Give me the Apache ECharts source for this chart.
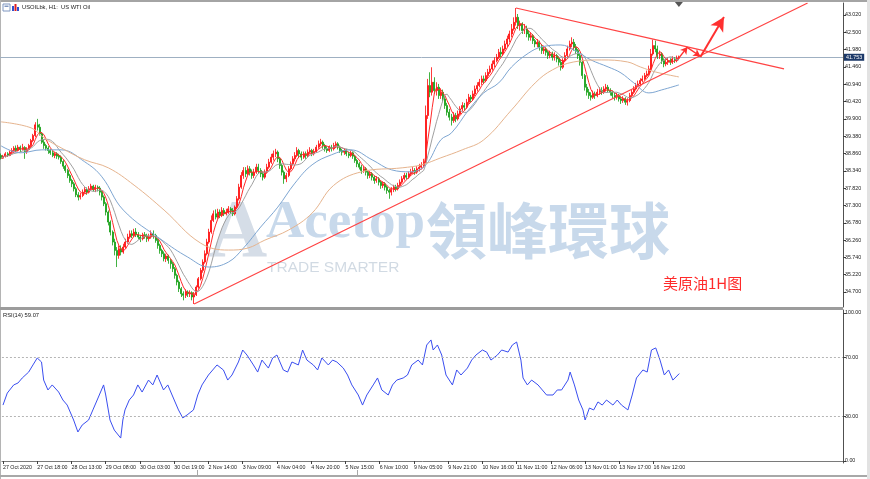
<!DOCTYPE html>
<html><head><meta charset="utf-8">
<script src="https://cdn.jsdelivr.net/npm/echarts@6/dist/echarts.min.js"></script>
<style>html,body{margin:0;padding:0;background:#fff}#c{width:870px;height:479px}</style>
</head><body><div id="c"></div>
<script>
// ---------- DATA ----------
const tickLabels = ['27 Oct 2020','27 Oct 18:00','28 Oct 13:00','29 Oct 08:00','30 Oct 03:00','30 Oct 19:00','2 Nov 14:00','3 Nov 09:00','4 Nov 04:00','4 Nov 20:00','5 Nov 15:00','6 Nov 10:00','9 Nov 05:00','9 Nov 21:00','10 Nov 16:00','11 Nov 11:00','12 Nov 06:00','13 Nov 01:00','13 Nov 17:00','16 Nov 12:00'];
const priceTicks = [34.70,35.22,35.74,36.26,36.78,37.30,37.82,38.34,38.86,39.38,39.90,40.42,40.94,41.46,41.98,42.50,43.02];
const rsiTicks = [0,30,70,100];
const rsiLevels = [30,70];
// [open, close, low, high] per H1 bar
const ohlc = [
[38.80,38.72,38.68,38.86],[38.72,38.78,38.70,38.82],[38.78,38.85,38.74,38.90],[38.85,38.80,38.76,38.90],[38.80,38.90,38.78,38.95],
[38.90,38.95,38.85,39.02],[38.95,39.02,38.90,39.08],[39.02,38.95,38.90,39.10],[38.95,39.05,38.92,39.12],[39.05,38.98,38.90,39.10],
[38.98,39.04,38.95,39.15],[39.04,38.92,38.70,39.08],[38.92,38.98,38.85,39.05],[38.98,39.10,38.95,39.15],[39.10,39.25,39.05,39.30],
[39.25,39.40,39.20,39.45],[39.40,39.72,39.35,39.80],[39.72,39.65,39.55,39.90],[39.65,39.45,39.40,39.75],[39.45,39.20,39.15,39.50],
[39.20,39.10,39.00,39.28],[39.10,39.02,38.95,39.15],[39.02,38.95,38.85,39.08],[38.95,38.88,38.82,39.00],[38.88,38.80,38.75,38.95],
[38.80,38.85,38.72,38.90],[38.85,38.78,38.70,38.90],[38.78,38.75,38.68,38.85],[38.75,38.62,38.55,38.80],[38.62,38.48,38.40,38.66],
[38.48,38.35,38.28,38.52],[38.35,38.20,38.12,38.40],[38.20,38.05,37.98,38.25],[38.05,37.95,37.85,38.10],[37.95,37.80,37.72,38.00],
[37.80,37.62,37.55,37.85],[37.62,37.55,37.45,37.70],[37.55,37.60,37.48,37.68],[37.60,37.70,37.55,37.78],[37.70,37.78,37.65,37.85],
[37.78,37.70,37.62,37.84],[37.70,37.80,37.66,37.88],[37.80,37.88,37.75,37.95],[37.88,37.78,37.72,37.92],[37.78,37.85,37.70,37.92],
[37.85,37.82,37.72,37.90],[37.82,37.70,37.60,37.88],[37.70,37.55,37.45,37.75],[37.55,37.35,37.28,37.60],[37.35,37.10,37.00,37.40],
[37.10,36.80,36.70,37.15],[36.80,36.50,36.40,36.85],[36.50,36.20,36.10,36.55],[36.20,35.95,35.80,36.30],[35.95,35.80,35.45,36.05],
[35.80,36.00,35.70,36.10],[36.00,35.90,35.80,36.10],[35.90,36.05,35.85,36.15],[36.05,36.20,36.00,36.30],[36.20,36.35,36.15,36.45],
[36.35,36.45,36.30,36.55],[36.45,36.40,36.32,36.55],[36.40,36.50,36.35,36.60],[36.50,36.42,36.35,36.62],[36.42,36.35,36.28,36.50],
[36.35,36.30,36.20,36.42],[36.30,36.42,36.25,36.48],[36.42,36.38,36.30,36.50],[36.38,36.30,36.20,36.45],[36.30,36.35,36.22,36.45],
[36.35,36.45,36.30,36.55],[36.45,36.40,36.30,36.55],[36.40,36.25,36.18,36.45],[36.25,36.10,36.00,36.30],[36.10,35.95,35.85,36.15],
[35.95,35.85,35.75,36.00],[35.85,35.70,35.62,35.92],[35.70,35.78,35.60,35.85],[35.78,35.65,35.55,35.82],[35.65,35.55,35.40,35.70],
[35.55,35.40,35.30,35.60],[35.40,35.20,35.10,35.45],[35.20,35.00,34.90,35.25],[35.00,34.80,34.70,35.05],[34.80,34.65,34.55,34.85],
[34.65,34.60,34.45,34.72],[34.60,34.70,34.52,34.78],[34.70,34.65,34.55,34.75],[34.65,34.68,34.55,34.75],[34.68,34.55,34.45,34.72],
[34.55,34.62,34.34,34.70],[34.62,34.85,34.58,34.90],[34.85,35.10,34.80,35.15],[35.10,35.35,35.05,35.42],[35.35,35.60,35.28,35.68],
[35.60,35.85,35.55,35.95],[35.85,36.20,35.80,36.30],[36.20,36.50,36.15,36.60],[36.50,36.85,36.45,37.00],[36.85,37.05,36.80,37.15],
[37.05,36.95,36.88,37.18],[36.95,37.10,36.90,37.20],[37.10,37.00,36.92,37.18],[37.00,37.15,36.95,37.25],[37.15,37.05,36.98,37.22],
[37.05,37.10,37.00,37.20],[37.10,37.20,37.05,37.28],[37.20,37.15,37.05,37.25],[37.15,37.05,36.98,37.22],[37.05,37.25,37.00,37.30],
[37.25,37.50,37.20,37.58],[37.50,37.85,37.45,37.95],[37.85,38.20,37.80,38.30],[38.20,38.35,38.10,38.45],[38.35,38.25,38.15,38.45],
[38.25,38.40,38.20,38.50],[38.40,38.30,38.20,38.48],[38.30,38.20,38.10,38.38],[38.20,38.30,38.12,38.40],[38.30,38.45,38.25,38.55],
[38.45,38.35,38.25,38.55],[38.35,38.25,38.15,38.42],[38.25,38.15,38.05,38.32],[38.15,38.30,38.10,38.38],[38.30,38.45,38.25,38.55],
[38.45,38.60,38.40,38.70],[38.60,38.75,38.55,38.85],[38.75,38.85,38.65,38.95],[38.85,38.90,38.75,39.00],[38.90,38.70,38.60,38.95],
[38.70,38.50,38.40,38.75],[38.50,38.30,38.20,38.55],[38.30,38.10,37.95,38.35],[38.10,38.20,38.00,38.28],[38.20,38.40,38.15,38.48],
[38.40,38.55,38.35,38.62],[38.55,38.70,38.50,38.78],[38.70,38.80,38.62,38.90],[38.80,38.95,38.75,39.05],[38.95,38.85,38.75,39.00],
[38.85,38.75,38.65,38.92],[38.75,38.85,38.70,38.92],[38.85,38.80,38.70,38.92],[38.80,38.90,38.75,38.98],[38.90,38.95,38.85,39.05],
[38.95,38.85,38.78,39.00],[38.85,38.92,38.80,39.00],[38.92,39.05,38.88,39.12],[39.05,39.15,39.00,39.25],[39.15,39.20,39.08,39.30],
[39.20,39.10,39.00,39.25],[39.10,39.00,38.92,39.15],[39.00,38.95,38.88,39.08],[38.95,39.05,38.90,39.10],[39.05,39.00,38.92,39.12],
[39.00,39.10,38.95,39.18],[39.10,39.15,39.02,39.22],[39.15,39.05,38.98,39.20],[39.05,38.95,38.88,39.10],[38.95,38.90,38.80,39.00],
[38.90,38.95,38.82,39.02],[38.95,38.85,38.78,39.00],[38.85,38.80,38.72,38.92],[38.80,38.88,38.75,38.95],[38.88,38.78,38.70,38.92],
[38.78,38.65,38.58,38.82],[38.65,38.55,38.45,38.70],[38.55,38.45,38.38,38.60],[38.45,38.35,38.25,38.52],[38.35,38.40,38.28,38.48],
[38.40,38.30,38.20,38.45],[38.30,38.20,38.10,38.35],[38.20,38.25,38.12,38.32],[38.25,38.15,38.05,38.30],[38.15,38.05,37.95,38.20],
[38.05,38.10,37.98,38.18],[38.10,38.00,37.90,38.15],[38.00,37.90,37.80,38.05],[37.90,37.95,37.82,38.02],[37.95,37.85,37.75,38.00],
[37.85,37.75,37.65,37.90],[37.75,37.70,37.50,37.80],[37.70,37.78,37.60,37.85],[37.78,37.85,37.70,37.92],[37.85,37.80,37.72,37.92],
[37.80,37.90,37.75,37.98],[37.90,38.00,37.85,38.08],[38.00,38.10,37.95,38.18],[38.10,38.20,38.05,38.28],[38.20,38.15,38.08,38.28],
[38.15,38.25,38.10,38.32],[38.25,38.30,38.18,38.40],[38.30,38.35,38.25,38.45],[38.35,38.30,38.22,38.42],[38.30,38.40,38.25,38.48],
[38.40,38.45,38.32,38.55],[38.45,38.50,38.38,38.60],[38.50,38.60,38.45,38.70],[38.60,40.00,38.55,40.30],[40.00,40.90,39.90,41.10],
[40.90,40.70,40.55,41.30],[40.70,41.00,40.60,41.45],[41.00,40.75,40.65,41.15],[40.75,40.85,40.60,41.00],[40.85,40.60,40.50,40.95],
[40.60,40.70,40.50,40.82],[40.70,40.50,40.40,40.78],[40.50,40.30,40.20,40.58],[40.30,40.10,40.00,40.38],[40.10,39.95,39.85,40.20],
[39.95,39.85,39.70,40.05],[39.85,40.00,39.78,40.10],[40.00,39.90,39.80,40.08],[39.90,40.05,39.85,40.15],[40.05,40.20,40.00,40.28],
[40.20,40.30,40.12,40.40],[40.30,40.25,40.15,40.38],[40.25,40.40,40.20,40.50],[40.40,40.55,40.35,40.65],[40.55,40.50,40.40,40.62],
[40.50,40.65,40.45,40.75],[40.65,40.80,40.58,40.90],[40.80,40.90,40.72,41.00],[40.90,41.00,40.85,41.10],[41.00,41.10,40.92,41.20],
[41.10,41.05,40.95,41.20],[41.05,41.20,41.00,41.30],[41.20,41.30,41.12,41.40],[41.30,41.40,41.25,41.50],[41.40,41.55,41.35,41.65],
[41.55,41.65,41.45,41.75],[41.65,41.75,41.60,41.85],[41.75,41.90,41.70,42.00],[41.90,41.85,41.75,42.05],[41.85,42.00,41.80,42.10],
[42.00,42.15,41.95,42.25],[42.15,42.30,42.05,42.40],[42.30,42.45,42.20,42.55],[42.45,42.60,42.35,42.75],[42.60,42.80,42.55,42.95],
[42.80,42.95,42.70,43.23],[42.95,42.70,42.60,43.05],[42.70,42.75,42.55,42.85],[42.75,42.55,42.45,42.80],[42.55,42.60,42.45,42.75],
[42.60,42.45,42.35,42.70],[42.45,42.35,42.25,42.55],[42.35,42.40,42.25,42.50],[42.40,42.25,42.15,42.45],[42.25,42.15,42.05,42.30],
[42.15,42.20,42.05,42.30],[42.20,42.05,41.95,42.25],[42.05,41.95,41.85,42.15],[41.95,42.00,41.85,42.10],[42.00,41.90,41.80,42.05],
[41.90,41.80,41.70,41.95],[41.80,41.85,41.72,41.95],[41.85,41.75,41.65,41.92],[41.75,41.80,41.65,41.90],[41.80,41.70,41.60,41.85],
[41.70,41.60,41.50,41.78],[41.60,41.45,41.35,41.68],[41.45,41.65,41.40,41.72],[41.65,41.80,41.60,41.90],[41.80,42.00,41.75,42.10],
[42.00,42.15,41.95,42.25],[42.15,42.20,42.05,42.35],[42.20,42.05,41.95,42.30],[42.05,41.95,41.85,42.15],[41.95,41.80,41.70,42.00],
[41.80,41.60,41.50,41.85],[41.60,41.20,41.10,41.65],[41.20,40.85,40.75,41.25],[40.85,40.70,40.60,40.95],[40.70,40.60,40.50,40.80],
[40.60,40.55,40.45,40.70],[40.55,40.65,40.50,40.75],[40.65,40.60,40.50,40.72],[40.60,40.70,40.55,40.80],[40.70,40.75,40.62,40.85],
[40.75,40.70,40.62,40.85],[40.70,40.80,40.65,40.88],[40.80,40.85,40.72,40.95],[40.85,40.75,40.68,40.92],[40.75,40.70,40.60,40.82],
[40.70,40.60,40.52,40.75],[40.60,40.55,40.45,40.70],[40.55,40.60,40.48,40.68],[40.60,40.50,40.42,40.65],[40.50,40.45,40.35,40.58],
[40.45,40.50,40.38,40.58],[40.50,40.40,40.32,40.55],[40.40,40.45,40.30,40.52],[40.45,40.60,40.40,40.68],[40.60,40.70,40.55,40.78],
[40.70,40.80,40.65,40.88],[40.80,40.90,40.75,40.98],[40.90,40.95,40.85,41.05],[40.95,41.05,40.90,41.12],[41.05,41.10,41.00,41.20],
[41.10,41.20,41.05,41.28],[41.20,41.25,41.15,41.35],[41.25,41.40,41.20,41.50],[41.40,41.85,41.35,42.00],[41.85,42.10,41.80,42.28],
[42.10,42.00,41.90,42.25],[42.00,41.80,41.70,42.10],[41.80,41.85,41.70,41.95],[41.85,41.65,41.55,41.90],[41.65,41.55,41.45,41.72],
[41.55,41.60,41.48,41.70],[41.60,41.65,41.52,41.75],[41.65,41.60,41.52,41.72],[41.60,41.70,41.55,41.78],[41.70,41.65,41.58,41.75],
[41.65,41.72,41.60,41.80],[41.72,41.753,41.68,41.80]
];
// slow moving averages: [bar, price]
const blueMA = [[0,39.09],[9,38.88],[19,38.97],[28,38.97],[39,38.61],[47,38.16],[57,37.16],[75,36.26],[87,35.75],[97,35.45],[106,35.60],[113,36.02],[121,36.65],[129,37.25],[137,37.97],[145,38.52],[154,38.82],[163,38.97],[173,38.67],[182,38.37],[191,38.31],[198,38.52],[205,39.27],[210,39.48],[218,40.17],[225,40.68],[232,40.98],[238,41.46],[246,41.88],[252,42.06],[261,42.12],[267,41.97],[275,41.67],[283,41.46],[289,41.28],[295,40.98],[302,40.68],[308,40.77],[316,40.92]];
const tanMA = [[0,39.81],[14,39.63],[20,39.33],[28,39.03],[39,38.67],[50,38.43],[62,37.91],[76,37.16],[93,36.17],[106,35.96],[115,36.02],[123,36.26],[134,36.56],[145,37.07],[155,37.90],[168,38.31],[187,38.43],[196,38.52],[205,38.73],[215,38.97],[225,39.27],[238,40.17],[249,40.98],[257,41.37],[267,41.61],[280,41.67],[292,41.61],[298,41.46],[305,41.31],[316,41.16]];
// RSI(14): [bar, value]
const rsi = [[0,37.8],[2,45.9],[5,51.4],[7,52.7],[9,56.1],[12,60.1],[14,64.9],[16,69.6],[18,66.9],[19,54.7],[21,48],[23,51.4],[26,46.6],[28,41.2],[30,37.8],[33,27.7],[35,19.6],[37,24.3],[40,27.7],[42,34.5],[44,41.2],[47,51.4],[48,44.6],[50,27.7],[52,20.9],[55,15.5],[56,27.7],[57,34.5],[59,41.2],[61,44.6],[63,51.4],[65,46.6],[68,54.7],[70,51.4],[72,58.1],[75,48],[77,51.4],[79,44.6],[82,34.5],[84,29.1],[86,31.1],[89,34.5],[91,44.6],[93,51.4],[96,58.1],[98,61.5],[100,64.9],[103,61.5],[105,54.7],[107,58.1],[110,66.9],[112,75],[114,71.6],[117,64.9],[119,60.1],[121,68.2],[124,62.8],[126,69.6],[128,71.6],[131,61.5],[133,60.1],[135,66.9],[138,64.9],[140,75],[142,68.2],[145,64.9],[147,61.5],[149,69.6],[152,64.9],[154,68.2],[156,66.9],[159,62.8],[161,58.1],[163,51.4],[166,44.6],[168,37.8],[170,44.6],[173,51.4],[175,56.1],[177,48],[180,44.6],[182,51.4],[184,54.7],[187,56.1],[189,58.1],[191,64.9],[194,68.2],[196,64.9],[198,78.4],[200,81.8],[201,75],[203,78.4],[205,71.6],[207,58.1],[210,51.4],[212,61.5],[214,58.1],[217,62.8],[219,68.2],[221,71.6],[224,75],[226,73.6],[228,68.2],[231,71.6],[233,75],[236,73.6],[238,78.4],[240,80.4],[242,68.2],[243,56.1],[245,51.4],[247,54.7],[250,51.4],[252,48],[254,44.6],[257,44.6],[259,48],[261,48],[264,54.7],[265,60.1],[267,51.4],[269,41.2],[271,34.5],[272,27.7],[274,35.8],[276,34.5],[278,39.9],[280,37.8],[282,41.2],[285,37.8],[287,41.2],[289,37.8],[292,34.5],[294,44.6],[296,56.1],[299,61.5],[301,60.1],[303,75],[305,76.4],[307,68.2],[309,58.1],[311,61.5],[313,54.7],[314,56.1],[316,59.07]];
// drawn objects: [bar, price]
const supportLine = [[90,34.34],[233,38.86],[376,43.38]];
const resistLine = [[240,43.23],[303,42.31],[365,41.40]];
const arrowSegs = [[[316,41.73],[320,42.06]],[[320,42.04],[326,41.78]],[[326,41.76],[337,42.96]]];
const titleText = 'USOILbk, H1:  US WTI Oil';
const noteText = '美原油1H图';

// ---------- CHART ----------
const NCAT = 393;
const LABEL_STEP = 16;
const cats = Array.from({length: NCAT}, (_, i) => String(i));
const closes = ohlc.map(d => d[1]);
function sma(n) {
  return closes.map((_, i) => {
    let s = 0, c = 0;
    for (let k = Math.max(0, i - n + 1); k <= i; k++) { s += closes[k]; c++; }
    return +(s / c).toFixed(3);
  });
}
const lastClose = closes[closes.length - 1];
const lastRsi = rsi[rsi.length - 1][1];
const FONT = '"Liberation Sans", "DejaVu Sans", sans-serif';
const small = {fontSize: 5.3, color: '#1a1a1a', fontFamily: FONT};
const showTick = (i) => i % LABEL_STEP === 0 && i / LABEL_STEP < tickLabels.length;

const chart = echarts.init(document.getElementById('c'));
const option = {
  animation: false,
  backgroundColor: '#ffffff',
  grid: [
    {left: 0, right: 27, top: 3, height: 304},
    {left: 0, right: 27, top: 310, height: 153}
  ],
  xAxis: [
    {type: 'category', gridIndex: 0, data: cats, boundaryGap: true,
     axisLine: {show: false}, axisTick: {show: false}, axisLabel: {show: false}, splitLine: {show: false}},
    {type: 'category', gridIndex: 1, data: cats, boundaryGap: true,
     axisLine: {show: true, lineStyle: {color: '#7a7a7a', width: 1}},
     axisTick: {show: true, alignWithLabel: true, interval: showTick, length: 3, lineStyle: {color: '#404040'}},
     axisLabel: Object.assign({show: true, interval: showTick, align: 'left', margin: 2,
       formatter: (v, i) => tickLabels[i / LABEL_STEP] || ''}, small),
     splitLine: {show: false}}
  ],
  yAxis: [
    {type: 'value', gridIndex: 0, position: 'right', min: 34.25, max: 43.38,
     axisLine: {show: true, lineStyle: {color: '#505050', width: 1}},
     axisTick: {show: true, customValues: priceTicks, length: 3, lineStyle: {color: '#404040'}},
     axisLabel: Object.assign({show: true, customValues: priceTicks, margin: 2, formatter: v => v.toFixed(3)}, small),
     splitLine: {show: false}},
    {type: 'value', gridIndex: 1, position: 'right', min: -1.35, max: 102.03,
     axisLine: {show: true, lineStyle: {color: '#505050', width: 1}},
     axisTick: {show: true, customValues: rsiTicks, length: 3, lineStyle: {color: '#404040'}},
     axisLabel: Object.assign({show: true, customValues: rsiTicks, margin: 2, formatter: v => v.toFixed(2)}, small),
     splitLine: {show: false}}
  ],
  series: [
    {type: 'candlestick', name: 'USOILbk', xAxisIndex: 0, yAxisIndex: 0, data: ohlc,
     barWidth: 1.5, barMinWidth: 1.5, z: 2, large: false,
     itemStyle: {color: '#ff0a0a', color0: '#129e12', borderColor: '#ff0a0a', borderColor0: '#129e12',
       borderColorDoji: '#129e12', borderWidth: 0.8},
     markLine: {silent: true, symbol: ['none', 'none'], z: 1,
       lineStyle: {color: '#9fb0c2', width: 1, type: 'solid'},
       label: {show: true, position: 'end', distance: 1, formatter: () => lastClose.toFixed(3),
         backgroundColor: '#1d3a6a', color: '#ffffff', fontSize: 5.3, fontFamily: FONT, padding: [1, 2]},
       data: [{yAxis: lastClose}]}},
    {type: 'line', name: 'MA fast', xAxisIndex: 0, yAxisIndex: 0, data: sma(5), symbol: 'none', z: 3,
     lineStyle: {color: '#ff2a2a', width: 1}},
    {type: 'line', name: 'MA mid', xAxisIndex: 0, yAxisIndex: 0, data: sma(10), symbol: 'none', z: 3,
     lineStyle: {color: '#a0a0a0', width: 1}},
    {type: 'line', name: 'MA slow', xAxisIndex: 0, yAxisIndex: 0, data: blueMA, symbol: 'none', smooth: 0.4, z: 3,
     lineStyle: {color: '#7ea6d2', width: 1}},
    {type: 'line', name: 'MA long', xAxisIndex: 0, yAxisIndex: 0, data: tanMA, symbol: 'none', smooth: 0.4, z: 3,
     lineStyle: {color: '#e6b48e', width: 1}},
    {type: 'line', name: 'support', xAxisIndex: 0, yAxisIndex: 0, data: supportLine, z: 5,
     symbol: 'rect', symbolSize: 3, itemStyle: {color: '#111'}, lineStyle: {color: '#ff4444', width: 1.2}},
    {type: 'line', name: 'resistance', xAxisIndex: 0, yAxisIndex: 0, data: resistLine, z: 5,
     symbol: 'rect', symbolSize: 3, itemStyle: {color: '#111'}, lineStyle: {color: '#ff4444', width: 1.2},
     markLine: {silent: true, symbol: ['none', 'arrow'], z: 6,
       lineStyle: {color: '#ff3030', width: 1.4, type: 'solid'}, label: {show: false},
       data: arrowSegs.map((s, k) => [
         {coord: s[0], lineStyle: {color: '#ff3030', width: k === 2 ? 2 : 1.4, type: 'solid'}},
         {coord: s[1], symbolSize: k === 2 ? [11, 14] : [6, 7]}
       ])}},
    {type: 'line', name: 'RSI', xAxisIndex: 1, yAxisIndex: 1, data: rsi, symbol: 'none', z: 3,
     lineStyle: {color: '#3a4ef0', width: 1},
     markLine: {silent: true, symbol: ['none', 'none'], label: {show: false},
       lineStyle: {color: '#b5b5b5', width: 1, type: [2, 2]},
       data: rsiLevels.map(v => ({yAxis: v}))}}
  ]
};
chart.setOption(option);

const lastX = chart.convertToPixel({xAxisIndex: 0}, ohlc.length - 1);
const wm = 'rgba(118,160,206,0.40)';
chart.setOption({
  graphic: [
    {type: 'rect', silent: true, shape: {x: 0, y: 0, width: 870, height: 2}, style: {fill: '#a4a4a4'}},
    {type: 'rect', silent: true, shape: {x: 0, y: 0, width: 1, height: 479}, style: {fill: '#b4b4b4'}},
    {type: 'rect', silent: true, shape: {x: 0, y: 307, width: 843, height: 3}, style: {fill: '#9c9c9c'}},
    {type: 'rect', silent: true, shape: {x: 0, y: 475, width: 870, height: 2}, style: {fill: '#a8a8a8'}},
    {type: 'rect', silent: true, shape: {x: 867, y: 0, width: 3, height: 479}, style: {fill: '#e2e2e2'}},
    {type: 'rect', silent: true, shape: {x: 197, y: 470, width: 1, height: 6}, style: {fill: '#a8a8a8'}},
    {type: 'rect', silent: true, shape: {x: 357, y: 470, width: 1, height: 6}, style: {fill: '#a8a8a8'}},
    {type: 'polygon', silent: true, shape: {points: [[lastX - 4, 2], [lastX + 4, 2], [lastX, 7]]}, style: {fill: '#555'}},
    // watermark
    {type: 'text', silent: true, z: 0, left: 208, top: 194, style: {text: 'A', font: 'bold 82px "Liberation Serif"', fill: 'rgba(150,170,195,0.40)'}},
    {type: 'text', silent: true, z: 0, left: 266, top: 197, style: {text: 'Acetop', font: 'bold 53px "Liberation Serif"', fill: wm}},
    {type: 'text', silent: true, z: 0, left: 267, top: 260, style: {text: 'TRADE SMARTER', font: '15.5px "Liberation Sans"', fill: 'rgba(140,162,186,0.40)'}},
    {type: 'text', silent: true, z: 0, left: 426, top: 200, style: {text: '領峰環球', font: 'bold 61px "Noto Sans CJK TC"', fill: wm}},
    // header & labels
    {type: 'rect', silent: true, shape: {x: 3, y: 4, width: 7, height: 7}, style: {fill: '#ffffff', stroke: '#7f96c0', lineWidth: 1}},
    {type: 'rect', silent: true, shape: {x: 4.5, y: 5.5, width: 4, height: 1.5}, style: {fill: '#7f96c0'}},
    {type: 'rect', silent: true, shape: {x: 12, y: 6, width: 2, height: 5}, style: {fill: '#3050d0'}},
    {type: 'rect', silent: true, shape: {x: 14.5, y: 4, width: 2, height: 7}, style: {fill: '#e02020'}},
    {type: 'rect', silent: true, shape: {x: 17, y: 7, width: 2, height: 4}, style: {fill: '#3050d0'}},
    {type: 'text', silent: true, left: 22, top: 4, style: {text: titleText, font: '5.8px "Liberation Sans"', fill: '#1a1a1a'}},
    {type: 'text', silent: true, left: 3, top: 312, style: {text: 'RSI(14) ' + lastRsi.toFixed(2), font: '5.8px "Liberation Sans"', fill: '#1a1a1a'}},
    {type: 'text', silent: true, left: 663, top: 276, style: {text: noteText, font: '15px "Noto Sans CJK SC"', fill: '#ff2a2a'}}
  ]
});
</script>
</body></html>
